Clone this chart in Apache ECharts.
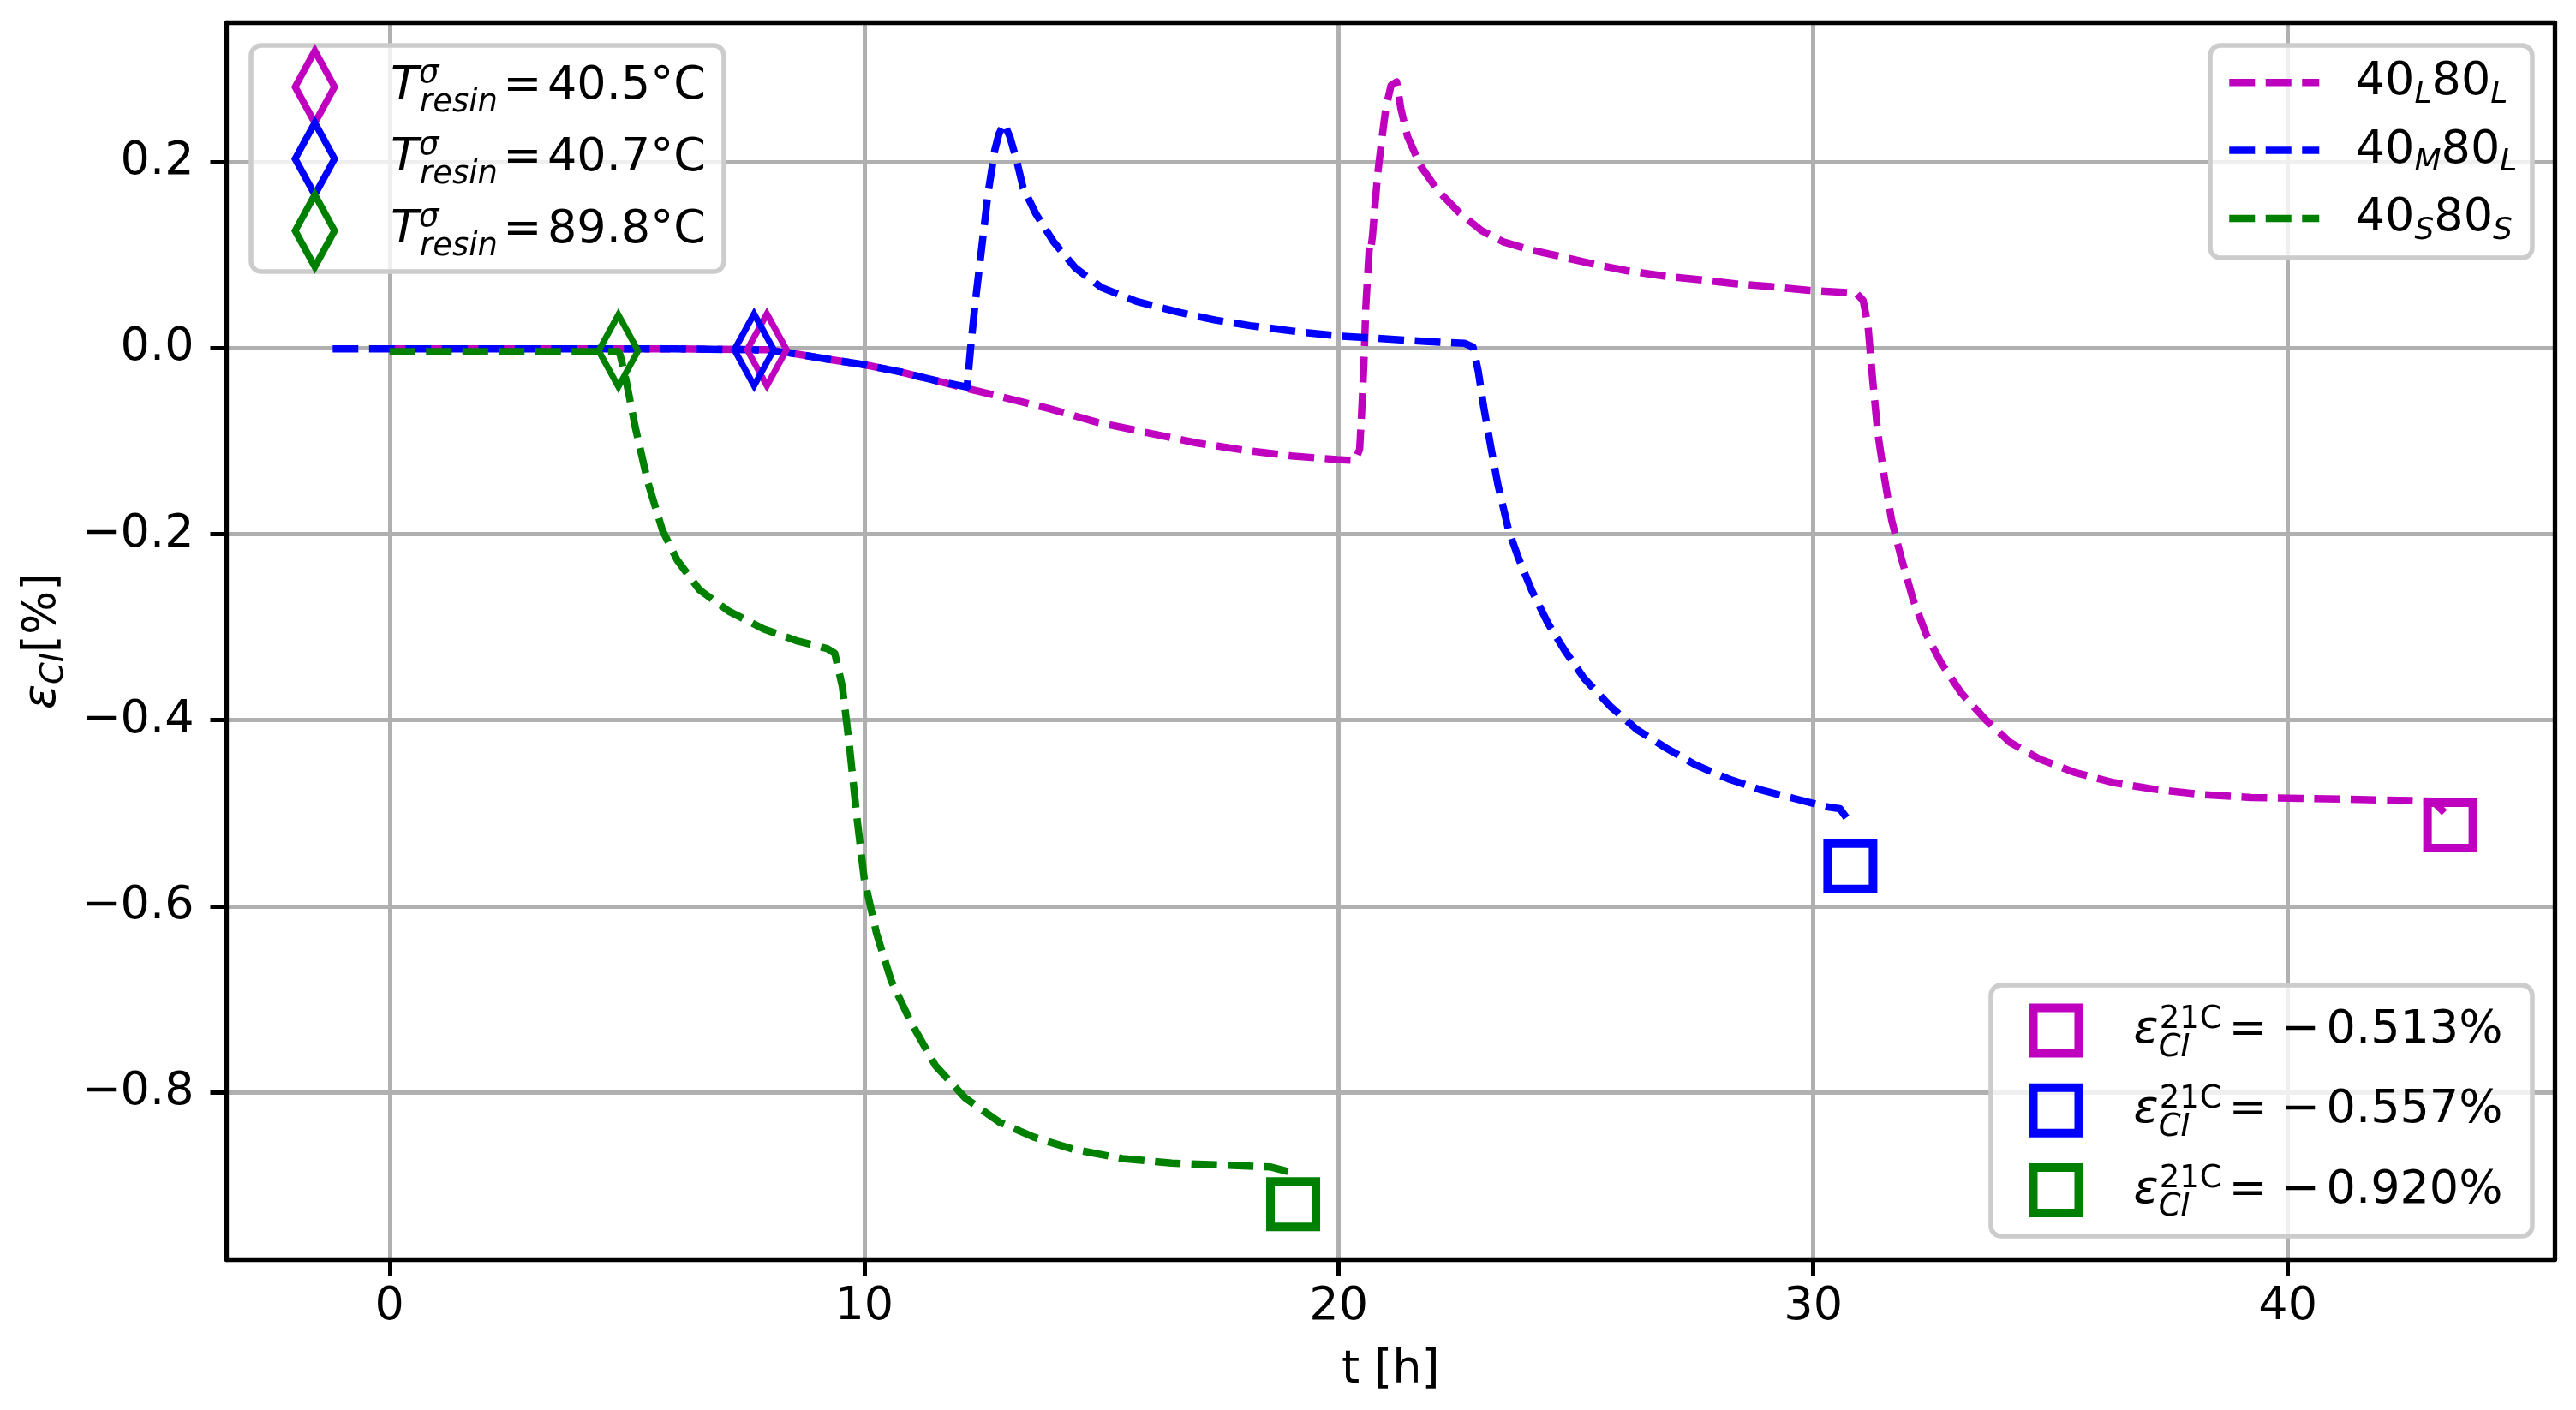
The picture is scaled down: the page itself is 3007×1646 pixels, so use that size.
<!DOCTYPE html>
<html>
<head>
<meta charset="utf-8">
<script src="https://cdn.jsdelivr.net/npm/echarts@6/dist/echarts.min.js"></script>
<style>
html,body{margin:0;padding:0;background:#fff}
#chart{width:3007px;height:1646px}
</style>
</head>
<body>
<div id="chart"></div>
<script>
var FONT = 'DejaVu Sans';
var MAGENTA = '#bf00bf', BLUE = '#0000ff', GREEN = '#008000';

// 40L80L (magenta)
var tL = [0, 2, 4, 6, 7.95, 8.4, 9.22, 10.0, 10.78, 11.5, 12.13, 12.85, 13.89, 14.92, 15.96, 17.0, 18.03, 19.0, 19.97, 20.34,
  20.44, 20.48, 20.53, 20.57, 20.64, 20.66, 20.68, 20.71, 20.76, 20.82, 20.9, 20.99, 21.1, 21.22, 21.31, 21.45, 21.72, 22.09,
  22.55, 23.01, 23.47, 24.0, 24.69, 25.38, 26.07, 26.9, 27.66, 28.35, 29.11, 29.87, 30.56, 30.9, 31.05, 31.15, 31.25, 31.36,
  31.5, 31.65, 31.85, 32.1, 32.38, 32.7, 33.12, 33.64, 34.15, 34.78, 35.5, 36.33, 37.16, 38.2, 39.23, 40.27, 41.3, 42.34, 43.06, 43.37];
var eL = [-0.001, -0.001, -0.001, -0.001, -0.002, -0.005, -0.012, -0.018, -0.026, -0.035, -0.043, -0.052, -0.065, -0.08, -0.091, -0.102, -0.11, -0.116, -0.12, -0.121,
  -0.109, -0.072, -0.017, 0.044, 0.105, 0.112, 0.108, 0.12, 0.151, 0.187, 0.221, 0.257, 0.282, 0.286, 0.257, 0.227, 0.196, 0.169,
  0.145, 0.126, 0.114, 0.106, 0.098, 0.09, 0.083, 0.077, 0.073, 0.069, 0.066, 0.062, 0.06, 0.059, 0.051, 0.025, -0.034, -0.092,
  -0.14, -0.185, -0.225, -0.27, -0.308, -0.339, -0.371, -0.4, -0.424, -0.442, -0.456, -0.467, -0.474, -0.48, -0.483, -0.484, -0.485, -0.486, -0.487, -0.503];

// 40M80L (blue)
var tM = [-1.2, 0, 2, 4, 6, 7.68, 8.4, 9.22, 10.0, 10.78, 11.5, 12.17, 12.24, 12.33, 12.47, 12.61, 12.75, 12.84, 12.95, 13.07,
  13.21, 13.35, 13.62, 13.99, 14.45, 15.0, 15.74, 16.66, 17.4, 18.13, 19.05, 19.97, 20.9, 21.82, 22.65, 22.83, 22.94, 23.05,
  23.2, 23.35, 23.58, 23.79, 24.07, 24.41, 24.76, 25.17, 25.72, 26.28, 26.9, 27.52, 28.21, 28.9, 29.59, 30.28, 30.56, 30.7, 30.8];
var eM = [-0.001, -0.001, -0.001, -0.001, -0.001, -0.002, -0.005, -0.012, -0.018, -0.026, -0.035, -0.042, -0.002, 0.044, 0.105, 0.166, 0.212, 0.23, 0.241, 0.227,
  0.202, 0.172, 0.144, 0.114, 0.086, 0.065, 0.05, 0.038, 0.03, 0.024, 0.018, 0.013, 0.01, 0.007, 0.005, 0.001, -0.025, -0.062,
  -0.105, -0.146, -0.196, -0.226, -0.261, -0.296, -0.325, -0.355, -0.385, -0.41, -0.43, -0.448, -0.463, -0.475, -0.484, -0.493, -0.495, -0.505, -0.514];

// 40S80S (green)
var tS = [0, 1, 2, 3, 4, 4.82, 4.86, 4.98, 5.18, 5.44, 5.75, 6.06, 6.53, 7.15, 7.88, 8.6, 9.22, 9.38, 9.54, 9.69, 9.85, 10.0,
  10.26, 10.57, 10.99, 11.5, 12.13, 12.85, 13.57, 14.4, 15.44, 16.48, 17.51, 18.55, 18.93];
var eS = [-0.004, -0.004, -0.004, -0.004, -0.004, -0.004, -0.008, -0.034, -0.086, -0.144, -0.196, -0.228, -0.26, -0.283, -0.302, -0.315, -0.323, -0.328, -0.364, -0.428, -0.506, -0.57,
  -0.629, -0.68, -0.725, -0.771, -0.806, -0.832, -0.848, -0.861, -0.871, -0.876, -0.878, -0.88, -0.885];

// markers: diamonds where T_resin is reached, squares for the final strain at 21C
var diamondT = [7.95, 7.68, 4.82];
var diamondE = [-0.002, -0.002, -0.003];
var squareT = [43.42, 30.78, 19.04];
var squareE = [-0.513, -0.557, -0.920];

var tempLabels = ['40.5°C', '40.7°C', '89.8°C'];
var strainLabels = ['0.513%', '0.557%', '0.920%'];
var caseSubs = [['L', 'L'], ['M', 'L'], ['S', 'S']];
var colors = [MAGENTA, BLUE, GREEN];

var xTicks = [0, 10, 20, 30, 40];
var yTicks = [-0.8, -0.6, -0.4, -0.2, 0, 0.2];

function pairs(xs, ys) {
  return xs.map(function (x, i) { return [x, ys[i]]; });
}
function yFmt(v) {
  if (Math.abs(v) < 1e-9) return '0.0';
  return (v < 0 ? '\u2212' : '') + Math.abs(v).toFixed(1);
}

var curves = [pairs(tL, eL), pairs(tM, eM), pairs(tS, eS)];
var series = [];
var labelMap = {};
curves.forEach(function (d, i) {
  var nm = 'c' + i;
  labelMap[nm] = '{sp| }{n|40}{sub|' + caseSubs[i][0] + '}{n|80}{sub|' + caseSubs[i][1] + '}';
  series.push({
    type: 'line', name: nm, data: d, symbol: 'none', showSymbol: false, silent: true, z: 2,
    itemStyle: {color: colors[i]},
    lineStyle: {color: colors[i], width: 8.5, type: [30, 12.5], cap: 'butt', join: 'round'}
  });
});
diamondT.forEach(function (t, i) {
  var nm = 'd' + i;
  labelMap[nm] = '{sp| }{T|T}{sup|\u03c3}{sub|resin}{eq|=}{n|' + tempLabels[i] + '}';
  series.push({
    type: 'scatter', name: nm, data: [[t, diamondE[i]]], symbol: 'diamond', symbolSize: [46, 84], silent: true, z: 3,
    itemStyle: {color: 'rgba(0,0,0,0)', borderColor: colors[i], borderWidth: 8, opacity: 1}
  });
});
squareT.forEach(function (t, i) {
  var nm = 's' + i;
  labelMap[nm] = '{sp| }{e|\u03b5}{sub|CI}{sup|21C}{eq|=}{mn|\u2212}{n|' + strainLabels[i] + '}';
  series.push({
    type: 'scatter', name: nm, data: [[t, squareE[i]]], symbol: 'rect', symbolSize: 53, silent: true, z: 3,
    itemStyle: {color: 'rgba(0,0,0,0)', borderColor: colors[i], borderWidth: 10, opacity: 1}
  });
});

function fmt(name) { return labelMap[name]; }
var base = {fontFamily: FONT, color: '#000'};
function st(o) { return Object.assign({}, base, o); }

var legendCommon = {
  orient: 'vertical', padding: 0, selectedMode: false, z: 6,
  backgroundColor: 'rgba(0,0,0,0)', borderWidth: 0, formatter: fmt
};

var option = {
  animation: false,
  backgroundColor: '#fff',
  grid: {left: 264.5, top: 26.3, width: 2717.5, height: 1444.2, show: false},
  xAxis: [{
    type: 'value', min: -3.435, max: 45.62, splitNumber: 5,
    axisLine: {show: true, onZero: false, lineStyle: {color: '#000', width: 5.3}},
    axisTick: {show: true, length: 19, customValues: xTicks, lineStyle: {color: '#000', width: 5}},
    axisLabel: {customValues: xTicks, margin: 28, color: '#000', fontFamily: FONT, fontSize: 54,
      formatter: function (v) { return String(v); }},
    splitLine: {show: true, lineStyle: {color: '#b0b0b0', width: 5}},
    name: 't [h]', nameLocation: 'middle', nameGap: 102,
    nameTextStyle: {color: '#000', fontFamily: FONT, fontSize: 54}
  }, {
    type: 'value', position: 'top', min: -3.435, max: 45.62, z: 10,
    axisLine: {show: true, onZero: false, lineStyle: {color: '#000', width: 5.3}},
    axisTick: {show: false}, axisLabel: {show: false}, splitLine: {show: false}
  }],
  yAxis: [{
    type: 'value', min: -0.9797, max: 0.3497, splitNumber: 7,
    axisLine: {show: true, onZero: false, lineStyle: {color: '#000', width: 5.3}},
    axisTick: {show: true, length: 19, customValues: yTicks, lineStyle: {color: '#000', width: 5}},
    axisLabel: {customValues: yTicks, margin: 38, color: '#000', fontFamily: FONT, fontSize: 54, formatter: yFmt},
    splitLine: {show: true, lineStyle: {color: '#b0b0b0', width: 5}},
    name: '{e|\u03b5}{s|CI}{n|[%]}', nameLocation: 'middle', nameGap: 188,
    nameTextStyle: {
      color: '#000', fontFamily: FONT, fontSize: 54,
      rich: {
        e: st({fontSize: 54, fontStyle: 'italic', lineHeight: 54}),
        s: st({fontSize: 37, fontStyle: 'italic', verticalAlign: 'bottom', height: 26, lineHeight: 26}),
        n: st({fontSize: 54, lineHeight: 54})
      }
    }
  }, {
    type: 'value', position: 'right', min: -0.9797, max: 0.3497, z: 10,
    axisLine: {show: true, onZero: false, lineStyle: {color: '#000', width: 5.3}},
    axisTick: {show: false}, axisLabel: {show: false}, splitLine: {show: false}
  }],
  legend: [
    Object.assign({}, legendCommon, {
      data: [{name: 'd0', icon: 'diamond'}, {name: 'd1', icon: 'diamond'}, {name: 'd2', icon: 'diamond'}],
      left: 340.5, top: 55.4, itemWidth: 46, itemHeight: 84, itemGap: -8,
      itemStyle: {borderWidth: 8},
      textStyle: {
        fontFamily: FONT, fontSize: 54, color: '#000',
        rich: {
          sp: st({width: 60.5, fontSize: 54, lineHeight: 54}),
          T: st({fontSize: 54, fontStyle: 'italic', lineHeight: 54}),
          sup: st({fontSize: 37, fontStyle: 'italic', verticalAlign: 'top', height: 23.4, lineHeight: 23.4, width: 1}),
          sub: st({fontSize: 37, fontStyle: 'italic', verticalAlign: 'bottom', height: 15.2, lineHeight: 15.2}),
          eq: st({fontSize: 54, width: 58, align: 'center', lineHeight: 54}),
          n: st({fontSize: 54, lineHeight: 54})
        }
      }
    }),
    Object.assign({}, legendCommon, {
      data: ['c0', 'c1', 'c2'],
      left: 2598, top: 65.1, itemWidth: 105, itemHeight: 78, itemGap: 15.6,
      itemStyle: {color: 'rgba(0,0,0,0)', borderWidth: 0, opacity: 0},
      lineStyle: {width: 8.5},
      textStyle: {
        fontFamily: FONT, fontSize: 54, color: '#000',
        rich: {
          sp: st({width: 37.5, fontSize: 54, lineHeight: 54}),
          n: st({fontSize: 54, lineHeight: 54}),
          sub: st({fontSize: 36, fontStyle: 'italic', verticalAlign: 'bottom', height: 25, lineHeight: 25})
        }
      }
    }),
    Object.assign({}, legendCommon, {
      data: [{name: 's0', icon: 'rect'}, {name: 's1', icon: 'rect'}, {name: 's2', icon: 'rect'}],
      left: 2368.5, top: 1171.5, itemWidth: 53, itemHeight: 53, itemGap: 23.3,
      itemStyle: {borderWidth: 10},
      textStyle: {
        fontFamily: FONT, fontSize: 54, color: '#000',
        rich: {
          sp: st({width: 59, fontSize: 54, lineHeight: 50}),
          e: st({fontSize: 54, fontStyle: 'italic', lineHeight: 50}),
          sub: st({fontSize: 37, fontStyle: 'italic', verticalAlign: 'bottom', height: 10, lineHeight: 10, width: 1}),
          sup: st({fontSize: 37, verticalAlign: 'top', height: 24, lineHeight: 24}),
          eq: st({fontSize: 54, width: 61, align: 'center', lineHeight: 50}),
          mn: st({fontSize: 54, width: 61, align: 'center', lineHeight: 50}),
          n: st({fontSize: 54, lineHeight: 50})
        }
      }
    })
  ],
  graphic: {
    elements: [
      {type: 'rect', z: 5, silent: true, shape: {x: 293, y: 53, width: 552, height: 264, r: 12},
        style: {fill: 'rgba(255,255,255,0.8)', stroke: '#cccccc', lineWidth: 5.5}},
      {type: 'rect', z: 5, silent: true, shape: {x: 2580, y: 53, width: 376, height: 248, r: 12},
        style: {fill: 'rgba(255,255,255,0.8)', stroke: '#cccccc', lineWidth: 5.5}},
      {type: 'rect', z: 5, silent: true, shape: {x: 2324, y: 1150, width: 632, height: 293, r: 12},
        style: {fill: 'rgba(255,255,255,0.8)', stroke: '#cccccc', lineWidth: 5.5}}
    ]
  },
  series: series
};

var chart = echarts.init(document.getElementById('chart'), null, {renderer: 'canvas'});
chart.setOption(option);
</script>
</body>
</html>
